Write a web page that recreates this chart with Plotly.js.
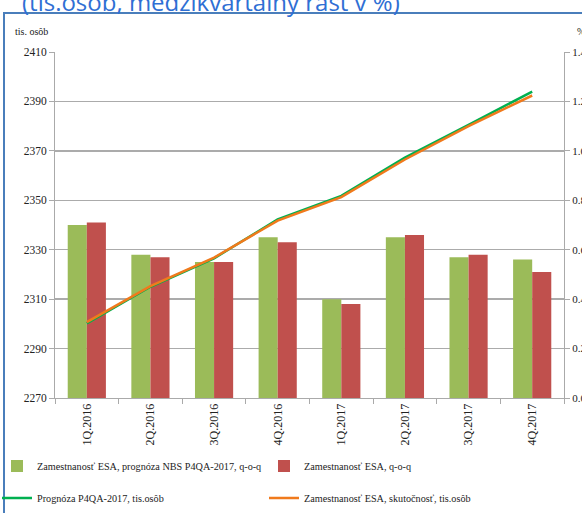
<!DOCTYPE html>
<html><head><meta charset="utf-8">
<script src="https://cdn.plot.ly/plotly-3.0.1.min.js"></script>
<style>html,body{margin:0;padding:0;background:#fff;}#chart{width:582px;height:513px;}</style>
</head><body><div id="chart"></div>
<script>
const categories = ['1Q.2016','2Q.2016','3Q.2016','4Q.2016','1Q.2017','2Q.2017','3Q.2017','4Q.2017'];
const forecastQoQ = [0.70, 0.58, 0.55, 0.65, 0.40, 0.65, 0.57, 0.56];
const actualQoQ   = [0.71, 0.57, 0.55, 0.63, 0.38, 0.66, 0.58, 0.51];
const forecastLevel = [2300.2, 2315.0, 2326.5, 2342.3, 2351.8, 2367.3, 2380.5, 2394.0];
const actualLevel   = [2300.7, 2315.3, 2326.8, 2341.8, 2351.3, 2366.5, 2380.0, 2392.4];
const leftTicks = [2270, 2290, 2310, 2330, 2350, 2370, 2390, 2410];
const rightTicks = [0, 0.2, 0.4, 0.6, 0.8, 1.0, 1.2, 1.4];

const W = 582, H = 513, L = 55, R = 18, T = 52, B = 115;
const pw = W - L - R, ph = H - T - B;
const px = v => (v - L) / pw;
const py = v => (H - B - v) / ph;
const serif = 'Liberation Serif, Times New Roman, serif';

const traces = [
  {type:'bar', x:categories, y:forecastQoQ, name:'Zamestnanosť ESA, prognóza NBS P4QA-2017, q-o-q',
   marker:{color:'#9bbb59'}, yaxis:'y', legend:'legend'},
  {type:'bar', x:categories, y:actualQoQ, name:'Zamestnanosť ESA, q-o-q',
   marker:{color:'#c0504d'}, yaxis:'y', legend:'legend'},
  {type:'scatter', mode:'lines', x:categories, y:forecastLevel, name:'Prognóza P4QA-2017, tis.osôb',
   line:{color:'#00b050', width:2.5}, yaxis:'y2', legend:'legend2'},
  {type:'scatter', mode:'lines', x:categories, y:actualLevel, name:'Zamestnanosť ESA, skutočnosť, tis.osôb',
   line:{color:'#f07a1c', width:2.5}, yaxis:'y2', legend:'legend2'}
];

const legendCommon = {orientation:'h', xref:'paper', yref:'paper', x:px(-3), xanchor:'left', yanchor:'middle',
  entrywidth:222, entrywidthmode:'pixels', bgcolor:'rgba(0,0,0,0)',
  font:{family:serif, size:10.2, color:'#222'}, itemwidth:30};

const layout = {
  width:W, height:H, margin:{l:L, r:R, t:T, b:B, autoexpand:false},
  paper_bgcolor:'#fff', plot_bgcolor:'#fff',
  barmode:'group', bargap:0.4, bargroupgap:0,
  showlegend:true,
  legend:Object.assign({}, legendCommon, {y:py(466)}),
  legend2:Object.assign({}, legendCommon, {y:py(498)}),
  xaxis:{type:'category', automargin:false, tickson:'boundaries', ticks:'outside', ticklen:5, tickcolor:'#aaa',
    showline:true, linecolor:'#aaa', linewidth:1, tickangle:-90,
    tickfont:{family:serif, size:12, color:'#222'}, showgrid:false},
  yaxis:{side:'right', automargin:false, range:[0,1.4], tickvals:rightTicks, tickformat:'.1f', ticks:'outside', ticklen:5,
    tickcolor:'#aaa', showline:true, linecolor:'#aaa', showgrid:true, gridcolor:'#ababab', gridwidth:1.5,
    zeroline:false, tickfont:{family:serif, size:11, color:'#222'}},
  yaxis2:{overlaying:'y', side:'left', automargin:false, range:[2270,2410], tickvals:leftTicks, ticks:'outside', ticklen:5,
    tickcolor:'#aaa', showline:true, linecolor:'#aaa', showgrid:false, zeroline:false,
    tickfont:{family:serif, size:11.5, color:'#222'}},
  annotations:[
    {text:'(tis.osôb, medzikvartálny rast v %)', xref:'paper', yref:'paper', x:px(20), y:py(1),
     xanchor:'left', yanchor:'middle', showarrow:false,
     font:{family:'Open Sans, sans-serif', size:24, color:'#2f6fd4'}},
    {text:'tis. osôb', xref:'paper', yref:'paper', x:px(13), y:py(31), xanchor:'left', yanchor:'middle',
     showarrow:false, font:{family:serif, size:10, color:'#222'}},
    {text:'%', xref:'paper', yref:'paper', x:px(575), y:py(31), xanchor:'left', yanchor:'middle',
     showarrow:false, font:{family:serif, size:10, color:'#222'}}
  ],
  shapes:[
    {type:'rect', xref:'paper', yref:'paper', x0:px(4), x1:px(595), y0:py(525), y1:py(13),
     line:{color:'#4a7ebb', width:2}, fillcolor:'rgba(0,0,0,0)', layer:'above'}
  ]
};

Plotly.newPlot('chart', traces, layout, {displayModeBar:false, staticPlot:true});
</script></body></html>
